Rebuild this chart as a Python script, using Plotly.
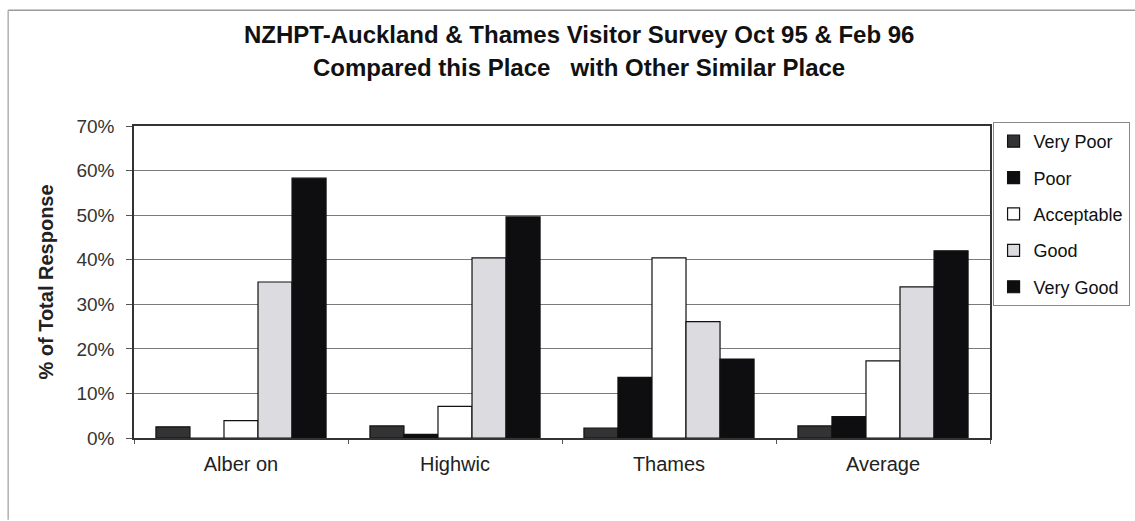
import plotly.graph_objects as go

# Survey categories and response shares (% of total response)
places = ["Alber on", "Highwic", "Thames", "Average"]
very_poor = [2.5, 2.7, 2.2, 2.7]
poor = [0.0, 0.8, 13.6, 4.8]
acceptable = [3.9, 7.1, 40.4, 17.3]
good = [35.0, 40.4, 26.1, 33.9]
very_good = [58.3, 49.6, 17.7, 42.0]

series_names = ["Very Poor", "Poor", "Acceptable", "Good", "Very Good"]
series_values = [very_poor, poor, acceptable, good, very_good]
series_colors = ["#333335", "#0e0e10", "#ffffff", "#dcdbe0", "#0e0e10"]

FONT = "Liberation Sans, Arial, sans-serif"

fig = go.Figure()
for name, vals, col in zip(series_names, series_values, series_colors):
    fig.add_trace(go.Bar(
        name=name, x=places, y=vals, legendgroup=name,
        marker=dict(color=col, line=dict(color="#111111", width=1.2)),
    ))

# outer chart frame (top and left edges)
fig.add_shape(type="line", xref="paper", yref="paper",
              x0=-0.147, x1=1.2, y0=1.371, y1=1.371,
              line=dict(color="#9a9a9a", width=1.5))
fig.add_shape(type="line", xref="paper", yref="paper",
              x0=-0.147, x1=-0.147, y0=1.371, y1=-0.262,
              line=dict(color="#b0b0b0", width=1.5))

fig.add_annotation(text="<b>NZHPT-Auckland & Thames Visitor Survey Oct 95 & Feb 96</b>",
                   xref="paper", yref="paper", x=0.52, y=1.292, showarrow=False,
                   xanchor="center", yanchor="middle",
                   font=dict(family=FONT, size=24, color="#111111"))
fig.add_annotation(text="<b>Compared this Place   with Other Similar Place</b>",
                   xref="paper", yref="paper", x=0.52, y=1.187, showarrow=False,
                   xanchor="center", yanchor="middle",
                   font=dict(family=FONT, size=24, color="#111111"))

fig.update_layout(
    width=1135, height=521,
    margin=dict(l=134, r=145, t=126, b=83, autoexpand=False),
    paper_bgcolor="white", plot_bgcolor="white",
    barmode="group", bargap=0.205, bargroupgap=0,
    font=dict(family=FONT, size=19, color="#222222"),
    showlegend=True,
    legend=dict(x=1.003, y=1.013, xanchor="left", yanchor="top",
                bordercolor="#888888", borderwidth=1, bgcolor="white",
                font=dict(family=FONT, size=18, color="#111111"),
                traceorder="grouped", tracegroupgap=10,
                itemwidth=30),
)

fig.update_xaxes(
    showline=True, linecolor="#333333", linewidth=1.5, mirror=True,
    ticks="outside", tickson="boundaries", ticklen=4, tickcolor="#555555",
    ticklabelstandoff=7,
    tickfont=dict(family=FONT, size=20, color="#222222"),
    showgrid=False,
)
fig.update_yaxes(
    range=[0, 70], dtick=10, ticksuffix="%",
    showline=True, linecolor="#333333", linewidth=1.5, mirror=True,
    ticks="outside", ticklen=6, tickcolor="#555555",
    ticklabelstandoff=8,
    showgrid=True, gridcolor="#7a7a7a", gridwidth=1,
    zeroline=False,
    tickfont=dict(family=FONT, size=19, color="#333333"),
    title=dict(text="<b>% of Total Response</b>", standoff=17,
               font=dict(family=FONT, size=20, color="#222222")),
)

fig.write_html("out.html")
